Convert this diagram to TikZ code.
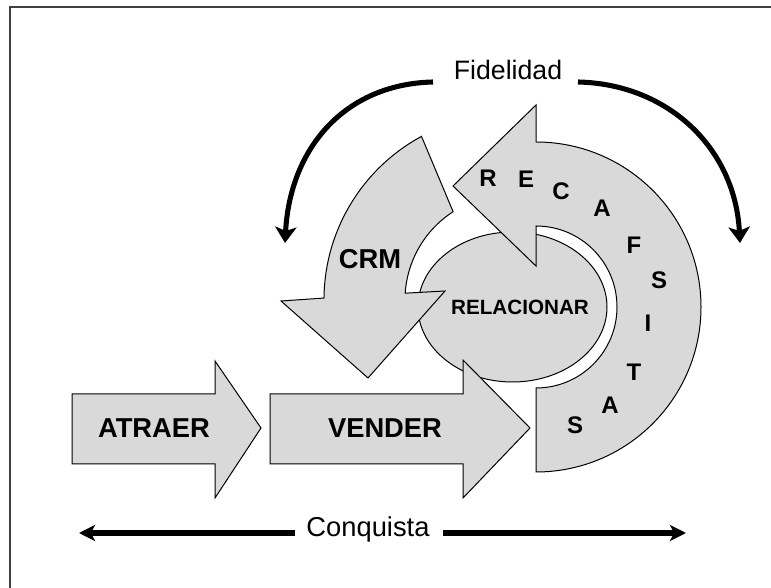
\documentclass[tikz,border=0pt]{standalone}
\usepackage{fontspec}
\setmainfont{Liberation Sans}
\usetikzlibrary{arrows.meta}

\begin{document}
\begin{tikzpicture}[x=0.75pt,y=0.75pt,
  grayshape/.style={draw=black,fill=gray!30,line width=0.75pt,line join=miter},
  fidarrow/.style={line width=3.8pt,-{Stealth[length=12pt,width=16pt,inset=3pt]}},
  conqarrow/.style={line width=4pt,-{Stealth[length=12pt,width=12pt,inset=3pt]}},
  boxtext/.style={font=\bfseries\fontsize{20.5}{24}\selectfont},
  ringletter/.style={font=\bfseries\fontsize{18}{21}\selectfont}]
\tikzstyle{every node}+=[inner sep=0pt]
\useasboundingbox (0,0) rectangle (771,588);
\draw [black!75,line width=1.6pt] (10,0) -- (10,581) -- (771,581);
\draw [grayshape] (512.5,281) ellipse (94.5 and 75);
\draw [grayshape] (536,446) arc (90:-90:123.75pt) -- (536,200) arc (-90:90:60.75pt) -- (536,322) -- (453,402) -- (536,483) -- cycle;
\draw [grayshape] (421.5,451.6) arc (118.4:179.4:139.5pt) -- (281,287) -- (368,210) -- (445,297) -- (405.2,294.8) arc (176.3:122.8:78.75pt) -- cycle;
\draw [grayshape] (270,124) -- (463,124) -- (463,90) -- (530,160) -- (463,228) -- (463,194) -- (270,194) -- cycle;
\draw [grayshape] (72,124) -- (215,124) -- (215,90) -- (261,160) -- (215,227) -- (215,194) -- (72,194) -- cycle;
\node [boxtext] (atraer) at (154,160) {ATRAER};
\node [boxtext] (vender) at (385,160) {VENDER};
\node [boxtext] (crm) at (370,329) {CRM};
\node [font=\bfseries\fontsize{15.5}{18}\selectfont] (relacionar) at (520,280.5) {RELACIONAR};
\foreach \ch/\px/\py [count=\i] in {R/488/410, E/526/409, C/561/397, A/602/380, F/634/343, S/659/308, I/648/265, T/634/216, A/610/183, S/575/163}
  \node [ringletter] (letter\i) at (\px,\py) {\ch};
\node [anchor=base,font=\fontsize{20}{24}\selectfont] (fidelidad) at (508,508) {Fidelidad};
\coordinate (fidstartl) at (433,506);
\coordinate (fidendl) at (285,345);
\coordinate (fidstartr) at (578,506);
\coordinate (fidendr) at (740,345);
\draw [fidarrow] (fidstartl) .. controls (345,504) and (290,440) .. (fidendl);
\draw [fidarrow] (fidstartr) .. controls (668,504) and (735,440) .. (fidendr);
\node [anchor=base,font=\fontsize{20.5}{24}\selectfont] (conquista) at (368,51) {Conquista};
\coordinate (conqstartl) at (295,55);
\coordinate (conqendl) at (79,55);
\coordinate (conqstartr) at (443,55);
\coordinate (conqendr) at (686,55);
\draw [conqarrow] (conqstartl) -- (conqendl);
\draw [conqarrow] (conqstartr) -- (conqendr);
\end{tikzpicture}
\end{document}
